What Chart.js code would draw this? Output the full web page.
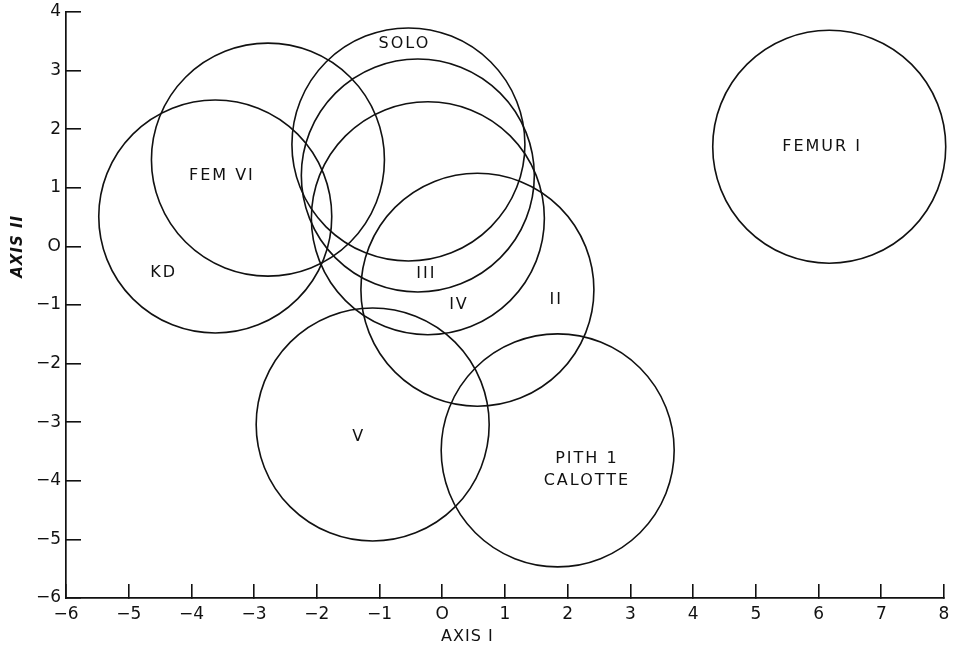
<!DOCTYPE html>
<html>
<head>
<meta charset="utf-8">
<script src="https://cdn.jsdelivr.net/npm/chart.js@4.4.1/dist/chart.umd.min.js"></script>
<style>
html,body{margin:0;padding:0;background:#fff;}
#wrap{width:959px;height:652px;}
</style>
</head>
<body>
<div id="wrap"><canvas id="c" width="959" height="652"></canvas></div>
<script>
// ---- data ----
const groupNames = ['SOLO', 'III', 'IV', 'II', 'FEM VI', 'KD', 'V', 'PITH 1\nCALOTTE', 'FEMUR I'];
const axisI  = [-0.54, -0.39, -0.23, 0.56, -2.78, -3.62, -1.11, 1.84, 6.17];
const axisII = [ 1.74,  1.21,  0.48, -0.74, 1.48,  0.51, -3.04, -3.48, 1.70];
// where each group's name is written (data coordinates)
const labelAxisI  = [-0.62, -0.27, 0.25, 1.80, -3.53, -4.46, -1.35, 2.29, 6.04];
const labelAxisII = [ 3.46, -0.47, -1.00, -0.91, 1.21, -0.45, -3.25, -3.81, 1.70];
const xTickValues = [-6, -5, -4, -3, -2, -1, 0, 1, 2, 3, 4, 5, 6, 7, 8];
const xTickLabels = ['\u22126', '\u22125', '\u22124', '\u22123', '\u22122', '\u22121', 'O', '1', '2', '3', '4', '5', '6', '7', '8'];
const yTickValues = [-6, -5, -4, -3, -2, -1, 0, 1, 2, 3, 4];
const yTickLabels = ['\u22126', '\u22125', '\u22124', '\u22123', '\u22122', '\u22121', 'O', '1', '2', '3', '4'];
const xTitle = 'AXIS I';
const yTitle = 'AXIS II';

const FONT = "'DejaVu Sans', sans-serif";
const INK = '#111111';

const groupLabels = {
  id: 'groupLabels',
  afterDatasetsDraw(chart) {
    const {ctx, scales: {x, y}} = chart;
    ctx.save();
    ctx.fillStyle = INK;
    ctx.font = '16px ' + FONT;
    if ('letterSpacing' in ctx) ctx.letterSpacing = '2px';
    ctx.textAlign = 'center';
    ctx.textBaseline = 'middle';
    groupNames.forEach((name, i) => {
      const px = x.getPixelForValue(labelAxisI[i]);
      const py = y.getPixelForValue(labelAxisII[i]);
      const lines = name.split('\n');
      const lh = 22;
      lines.forEach((ln, k) => {
        ctx.fillText(ln, px + 1, py + (k - (lines.length - 1) / 2) * lh);
      });
    });
    ctx.restore();
  }
};

const axisTitles = {
  id: 'axisTitles',
  afterDraw(chart) {
    const {ctx, scales: {x, y}} = chart;
    ctx.save();
    ctx.fillStyle = INK;
    ctx.textAlign = 'center';
    ctx.textBaseline = 'middle';
    ctx.font = '16px ' + FONT;
    if ('letterSpacing' in ctx) ctx.letterSpacing = '1px';
    ctx.fillText(xTitle, x.getPixelForValue(0.4), 637);
    ctx.translate(18, y.getPixelForValue(0));
    ctx.rotate(-Math.PI / 2);
    ctx.font = 'italic bold 15px ' + FONT;
    ctx.fillText(yTitle, 0, 0);
    ctx.restore();
  }
};

const axisCommon = {
  type: 'linear',
  grid: {
    display: true,
    drawOnChartArea: false,
    drawTicks: true,
    color: INK,
    lineWidth: 1.6
  },
  border: {display: true, color: INK, width: 1.7}
};

function zeroPad(s) {
  s.paddingTop = 0; s.paddingBottom = 0; s.paddingLeft = 0; s.paddingRight = 0;
}

new Chart(document.getElementById('c'), {
  type: 'scatter',
  data: {
    datasets: [{
      data: axisI.map((v, i) => ({x: v, y: axisII[i]})),
      pointRadius: 116.5,
      pointHoverRadius: 116.5,
      pointBackgroundColor: 'rgba(0,0,0,0)',
      pointBorderColor: INK,
      pointBorderWidth: 1.6,
      pointHoverBorderWidth: 1.6,
      clip: false
    }]
  },
  options: {
    responsive: false,
    animation: false,
    devicePixelRatio: 1,
    events: [],
    layout: {autoPadding: false, padding: {top: 12, right: 15, left: 0, bottom: 0}},
    plugins: {legend: {display: false}, tooltip: {enabled: false}},
    scales: {
      x: Object.assign({}, axisCommon, {
        min: -6, max: 8,
        afterBuildTicks: s => { s.ticks = xTickValues.map(v => ({value: v})); },
        afterFit: s => { s.height = 54; zeroPad(s); },
        grid: Object.assign({}, axisCommon.grid, {tickLength: -14}),
        ticks: {
          color: INK, padding: 20, maxRotation: 0, autoSkip: false,
          font: {family: FONT, size: 17},
          callback: (v, i) => xTickLabels[i]
        }
      }),
      y: Object.assign({}, axisCommon, {
        min: -6, max: 4,
        afterBuildTicks: s => { s.ticks = yTickValues.map(v => ({value: v})); },
        afterFit: s => { s.width = 66; zeroPad(s); },
        grid: Object.assign({}, axisCommon.grid, {tickLength: -15}),
        ticks: {
          color: INK, padding: 20, autoSkip: false,
          font: {family: FONT, size: 17},
          callback: (v, i) => yTickLabels[i]
        }
      })
    }
  },
  plugins: [groupLabels, axisTitles]
});
</script>
</body>
</html>
